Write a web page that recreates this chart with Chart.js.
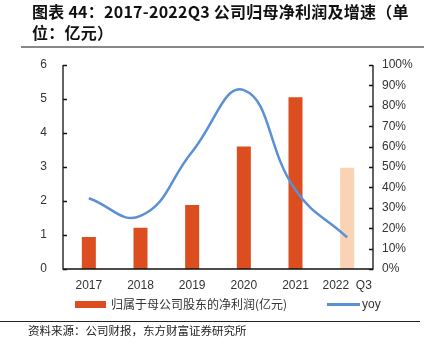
<!DOCTYPE html>
<html><head><meta charset="utf-8">
<script src="https://cdn.jsdelivr.net/npm/chart.js@4/dist/chart.umd.min.js"></script>
<style>
html,body{margin:0;padding:0;background:#fff;}
#wrap{position:relative;width:424px;height:351px;overflow:hidden;font-family:"Noto Sans CJK SC",sans-serif;}
#title{position:absolute;left:32px;top:1px;font-size:16px;letter-spacing:0.25px;font-weight:bold;line-height:21px;color:#111;white-space:nowrap;}
#tline{position:absolute;left:21px;top:46px;width:403px;height:2px;background:#888;}
#fline{position:absolute;left:0;top:321px;width:420px;height:1px;background:#222;}
#src{position:absolute;left:28px;top:322px;font-size:11.5px;color:#222;white-space:nowrap;}
.lg{position:absolute;font-size:12px;color:#333;white-space:nowrap;top:295px;line-height:18px;}
canvas{position:absolute;left:0;top:0;}
</style></head>
<body><div id="wrap">
<canvas id="c" width="424" height="351"></canvas>
<div id="title">图表 44：2017-2022Q3 公司归母净利润及增速（单<br>位：亿元）</div>
<div id="tline"></div>
<div style="position:absolute;left:75px;top:301px;width:31px;height:7px;background:#DC4E1F"></div>
<div class="lg" style="left:111px">归属于母公司股东的净利润(亿元)</div>
<div style="position:absolute;left:327px;top:303px;width:33px;height:2.5px;background:#5B8FD6"></div>
<div class="lg" style="left:362px;font-family:'Liberation Sans',sans-serif;">yoy</div>
<div id="fline"></div>
<div id="src">资料来源：公司财报，东方财富证券研究所</div>
</div>
<script>
const categories = ["2017","2018","2019","2020","2021","2022  Q3"];
const profit = [0.97, 1.24, 1.91, 3.63, 5.08, 3.01];
const yoy = [34.7, 26.0, 57.5, 87.7, 38.7, 15.5];
const leftTicks = [0,1,2,3,4,5,6];
const rightTicks = [0,10,20,30,40,50,60,70,80,90,100];

const barColors = profit.map((v,i)=> i===profit.length-1 ? "#F9D3B3" : "#DC4E1F");
const tickFont = {family:"'Liberation Sans', Arial, sans-serif", size:12};

const inTicks = {
  id:'inTicks',
  afterDraw(chart){
    const ctx = chart.ctx, a = chart.chartArea;
    ctx.save();
    ctx.strokeStyle = "#111"; ctx.lineWidth = 1.3;
    ctx.beginPath();
    ctx.moveTo(a.left, a.top); ctx.lineTo(a.left, a.bottom); ctx.lineTo(a.right, a.bottom); ctx.lineTo(a.right, a.top);
    const yl = chart.scales.y, yr = chart.scales.y1;
    leftTicks.forEach(t=>{const p=Math.round(yl.getPixelForValue(t))+0.5; ctx.moveTo(a.left,p); ctx.lineTo(a.left+4,p);});
    rightTicks.forEach(t=>{const p=Math.round(yr.getPixelForValue(t))+0.5; ctx.moveTo(a.right,p); ctx.lineTo(a.right-4,p);});
    ctx.stroke();
    ctx.restore();
  }
};

new Chart(document.getElementById('c'), {
  data: {
    labels: categories,
    datasets: [
      {type:'line', label:'yoy', data: yoy, yAxisID:'y1', borderColor:'#5B8FD6', borderWidth:2.5,
       pointRadius:0, tension:0.45, fill:false, order:0},
      {type:'bar', label:'归属于母公司股东的净利润(亿元)', data: profit, yAxisID:'y', backgroundColor: barColors,
       borderColor:'rgba(255,255,255,0.5)', borderWidth:{left:1,right:1,top:1,bottom:0},
       barPercentage:0.62, categoryPercentage:0.5, order:1}
    ]
  },
  options: {
    responsive:false, animation:false, devicePixelRatio:1,
    layout:{padding:{left:0,right:0,top:65,bottom:52}},
    plugins:{legend:{display:false}, tooltip:{enabled:false}},
    scales:{
      x:{grid:{display:false,drawTicks:false}, border:{display:false},
         ticks:{font:tickFont,color:'#333',padding:9,maxRotation:0,minRotation:0,autoSkip:false},
         afterFit(s){s.height=30;}},
      y:{position:'left', min:0, max:6, grid:{display:false,drawTicks:false}, border:{display:false},
         afterBuildTicks(s){s.ticks = leftTicks.map(v=>({value:v}));},
         ticks:{font:tickFont,color:'#333',padding:16},
         afterFit(s){s.width=63;}},
      y1:{position:'right', min:0, max:100, grid:{display:false,drawTicks:false}, border:{display:false},
         afterBuildTicks(s){s.ticks = rightTicks.map(v=>({value:v}));},
         ticks:{font:tickFont,color:'#333',padding:9,callback:v=>v+'%'},
         afterFit(s){s.width=51;}}
    }
  },
  plugins:[inTicks]
});
</script>
</body></html>
